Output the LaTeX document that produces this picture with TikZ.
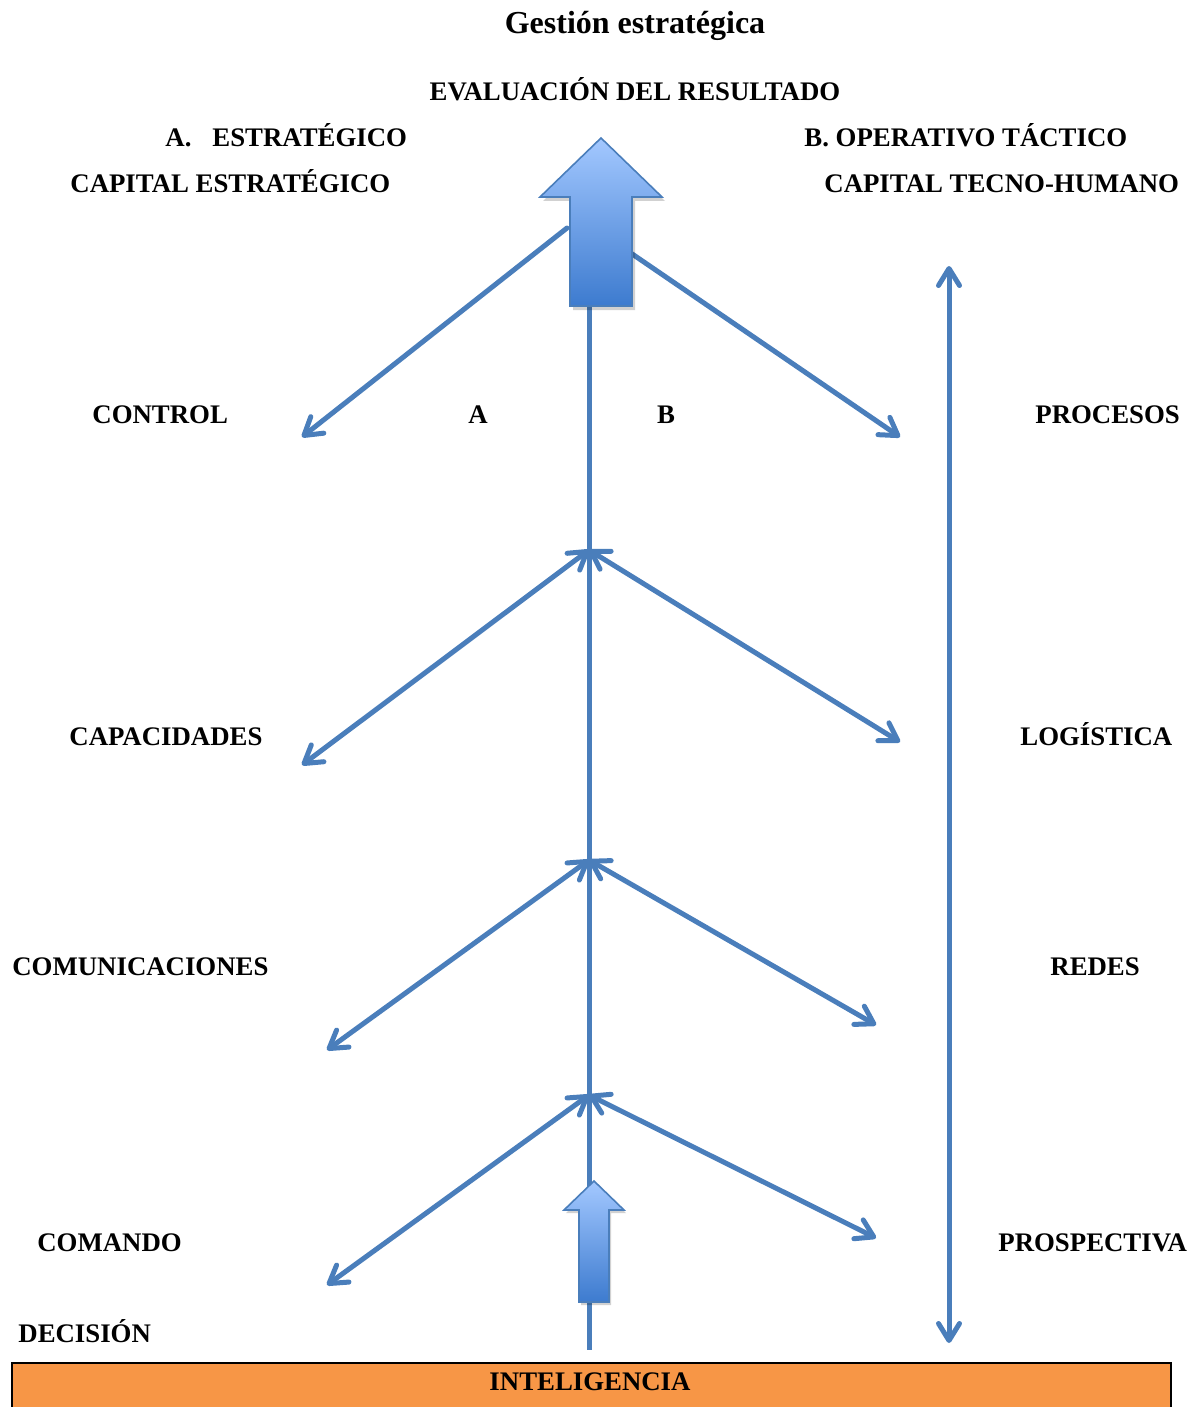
\documentclass[tikz,border=0pt]{standalone}
\usepackage{fontspec}
\setmainfont{Liberation Serif}
\usetikzlibrary{arrows.meta}
\definecolor{linkblue}{HTML}{4A7EBB}
\definecolor{arrowtop}{HTML}{A3C8FF}
\definecolor{arrowbot}{HTML}{3D7BCF}
\definecolor{boxorange}{HTML}{F79646}
\begin{document}
\begin{tikzpicture}[x=0.5pt,y=-0.5pt,
  lbl/.style={font=\fontsize{13.4}{15}\selectfont\bfseries, inner sep=0pt},
  ttl/.style={font=\fontsize{16}{19}\selectfont\bfseries, inner sep=0pt},
  link/.style={draw=linkblue, line width=2.5pt, line cap=round},
  barb/.tip={Straight Barb[length=8.5pt,width=10.5pt,round]},
  biarrow/.style={link, barb-barb},
  onearrow/.style={link, -barb},
  blockarrow/.style={draw=linkblue, line width=0.8pt, top color=arrowtop, bottom color=arrowbot, line join=miter},
  blockshadow/.style={fill=black, opacity=0.18, draw=none}]
\useasboundingbox (0,0) rectangle (1193,1407);

% spine and junction points
\coordinate (top)  at (589,300);
\coordinate (bot)  at (589,1350);
\coordinate (j1)   at (589,550);
\coordinate (j2)   at (589,860);
\coordinate (j3)   at (589,1095);
\coordinate (s0L)  at (567,228);
\coordinate (s0R)  at (600,232);

% branch end points
\coordinate (e0L) at (302,437);
\coordinate (e0R) at (900,437);
\coordinate (e1L) at (302,765);
\coordinate (e1R) at (900,742);
\coordinate (e2L) at (327,1050);
\coordinate (e2R) at (876,1025);
\coordinate (e3L) at (327,1285);
\coordinate (e3R) at (876,1238);

% right scale
\coordinate (vT) at (949,266);
\coordinate (vB) at (949,1343);

% texts
\node[ttl, anchor=base] (title) at (635,34) {Gestión estratégica};
\node[lbl, anchor=base] (eval) at (635,101) {EVALUACIÓN DEL RESULTADO};
\node[lbl, anchor=base west] (estr) at (165,147) {A.\hspace{10.5pt}ESTRATÉGICO};
\node[lbl, anchor=base west] (oper) at (804,147) {B. OPERATIVO TÁCTICO};
\node[lbl, anchor=base west] (capE) at (70,193) {CAPITAL ESTRATÉGICO};
\node[lbl, anchor=base west] (capT) at (824,193) {CAPITAL TECNO-HUMANO};
\node[lbl, anchor=base west] (control) at (92,423) {CONTROL};
\node[lbl, anchor=base] (la) at (478,423) {A};
\node[lbl, anchor=base] (lb) at (666,423) {B};
\node[lbl, anchor=base west] (procesos) at (1035,423) {PROCESOS};
\node[lbl, anchor=base west] (capac) at (69,745) {CAPACIDADES};
\node[lbl, anchor=base west] (logis) at (1020,745) {LOGÍSTICA};
\node[lbl, anchor=base west] (comun) at (12,975) {COMUNICACIONES};
\node[lbl, anchor=base west] (redes) at (1050,975) {REDES};
\node[lbl, anchor=base west] (comando) at (37,1251) {COMANDO};
\node[lbl, anchor=base west] (prosp) at (998,1251) {PROSPECTIVA};
\node[lbl, anchor=base west] (decision) at (18,1342) {DECISIÓN};

% intelligence bar
\draw[line width=1pt, fill=boxorange] (12,1363) rectangle (1171,1420);
\node[lbl, anchor=base] (intel) at (590,1390) {INTELIGENCIA};

% spine
\draw[link, line cap=butt] (top) -- (bot);

% top branches (start hidden under the block arrow)
\draw[onearrow] (s0L) -- (e0L);
\draw[onearrow] (s0R) -- (e0R);

% double-headed branches
\draw[biarrow] (j1) -- (e1L);
\draw[biarrow] (j1) -- (e1R);
\draw[biarrow] (j2) -- (e2L);
\draw[biarrow] (j2) -- (e2R);
\draw[biarrow] (j3) -- (e3L);
\draw[biarrow] (j3) -- (e3R);

% right vertical scale
\draw[biarrow] (vT) -- (vB);

% large block arrow (result)
\fill[blockshadow] (604,142) -- (665,201) -- (635,201) -- (635,310) -- (573,310) -- (573,201) -- (543,201) -- cycle;
\draw[blockarrow] (601,138) -- (662,197) -- (632,197) -- (632,306) -- (570,306) -- (570,197) -- (540,197) -- cycle;

% small block arrow (input)
\fill[blockshadow] (596,1184) -- (626,1213) -- (611,1213) -- (611,1305) -- (581,1305) -- (581,1213) -- (566,1213) -- cycle;
\draw[blockarrow] (594,1181) -- (624,1210) -- (609,1210) -- (609,1302) -- (579,1302) -- (579,1210) -- (564,1210) -- cycle;
\end{tikzpicture}
\end{document}
